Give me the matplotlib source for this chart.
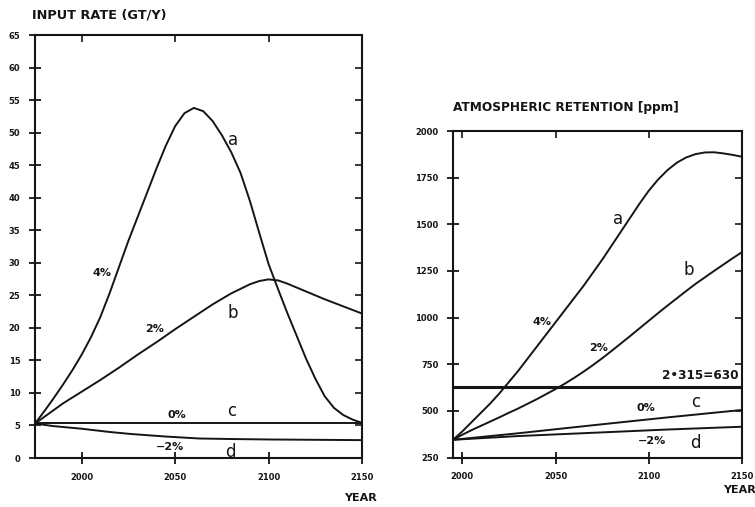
import matplotlib
matplotlib.use("Agg")
import matplotlib.pyplot as plt

# ---------------- data: left panel (input rate, GT/Y) ----------------
years_a_in = [1975, 1980, 1985, 1990, 1995, 2000, 2005, 2010, 2015, 2020, 2025, 2030,
              2035, 2040, 2045, 2050, 2055, 2060, 2065, 2070, 2075, 2080, 2085, 2090,
              2095, 2100, 2105, 2110, 2115, 2120, 2125, 2130, 2135, 2140, 2145, 2150]
rate_a = [5.3, 7.2, 9.2, 11.3, 13.5, 15.9, 18.6, 21.7, 25.4, 29.4, 33.4, 37.1,
          40.8, 44.5, 48.0, 51.0, 53.0, 53.8, 53.3, 51.8, 49.6, 47.0, 43.8, 39.5,
          34.6, 29.8, 26.0, 22.3, 18.8, 15.3, 12.2, 9.5, 7.7, 6.6, 5.9, 5.4]
years_b_in = [1975, 1990, 2000, 2010, 2020, 2030, 2040, 2050, 2060, 2070, 2080, 2090,
              2095, 2100, 2105, 2110, 2120, 2130, 2140, 2150]
rate_b = [5.3, 8.4, 10.2, 12.0, 13.9, 15.9, 17.8, 19.8, 21.7, 23.6, 25.3, 26.7,
          27.2, 27.45, 27.3, 26.8, 25.6, 24.4, 23.3, 22.2]
years_c_in = [1975, 2150]
rate_c = [5.4, 5.4]
years_d_in = [1975, 1985, 2000, 2015, 2026, 2045, 2063, 2080, 2100, 2125, 2150]
rate_d = [5.3, 4.9, 4.5, 4.0, 3.7, 3.3, 3.0, 2.92, 2.85, 2.8, 2.75]

# ---------------- data: right panel (atmospheric retention, ppm) ----------------
years_a_ret = [1995, 2000, 2005, 2010, 2015, 2020, 2025, 2030, 2035, 2040, 2045, 2050,
               2055, 2060, 2065, 2070, 2075, 2080, 2085, 2090, 2095, 2100, 2105, 2110,
               2115, 2120, 2125, 2130, 2135, 2140, 2145, 2150]
ppm_a = [345, 390, 440, 490, 540, 595, 655, 715, 780, 845, 910, 975,
         1040, 1105, 1170, 1240, 1310, 1385, 1460, 1535, 1610, 1680, 1740, 1790,
         1830, 1858, 1876, 1885, 1886, 1880, 1872, 1862]
years_b_ret = [1995, 2000, 2005, 2010, 2015, 2020, 2025, 2030, 2035, 2040, 2045, 2050,
               2055, 2060, 2065, 2070, 2075, 2080, 2085, 2090, 2095, 2100, 2105, 2110,
               2115, 2120, 2125, 2130, 2135, 2140, 2145, 2150]
ppm_b = [345, 372, 397, 420, 443, 466, 490, 513, 538, 563, 590, 617,
         646, 677, 710, 745, 782, 821, 861, 901, 942, 983, 1024, 1064,
         1103, 1142, 1180, 1215, 1250, 1284, 1318, 1351]
years_c_ret = [1995, 2030, 2071, 2110, 2150]
ppm_c = [345, 380, 424, 465, 505]
years_d_ret = [1995, 2030, 2071, 2110, 2150]
ppm_d = [345, 365, 383, 400, 415]
doubling_level = 630

left_yticks = list(range(0, 70, 5))
right_yticks = [250, 500, 750, 1000, 1250, 1500, 1750, 2000]
xticks = [2000, 2050, 2100, 2150]

INK = "#151515"
plt.rcParams['font.family'] = ['DejaVu Sans']

fig = plt.figure(figsize=(7.55, 5.07), dpi=100)
fig.patch.set_facecolor("white")


def style_axes(ax, yticks, xlim, ylim):
    ax.set_xlim(*xlim)
    ax.set_ylim(*ylim)
    for s in ax.spines.values():
        s.set_linewidth(1.5)
        s.set_color(INK)
    ax.set_xticks(xticks)
    ax.set_yticks(yticks)
    ax.tick_params(axis='both', direction='inout', length=9, width=1.3, color=INK,
                   labelsize=6, labelcolor=INK, pad=6)
    for lab in ax.get_xticklabels() + ax.get_yticklabels():
        lab.set_fontweight('bold')
    # top and right ticks pointing inward, no labels
    top = ax.secondary_xaxis('top')
    top.set_xticks(xticks[:-1])
    top.tick_params(direction='in', length=5, width=1.2, color=INK, labeltop=False)
    top.set_xticklabels([])
    top.spines['top'].set_visible(False)
    right = ax.secondary_yaxis('right')
    right.set_yticks(yticks[1:-1])
    right.tick_params(direction='in', length=5, width=1.2, color=INK, labelright=False)
    right.set_yticklabels([])
    right.spines['right'].set_visible(False)


# ---------------- left panel ----------------
ax1 = fig.add_axes([0.0464, 0.0966, 0.4331, 0.8343])
style_axes(ax1, left_yticks, (1975, 2150), (0, 65))
lw = 1.4
for xs, ys in [(years_a_in, rate_a), (years_b_in, rate_b),
               (years_c_in, rate_c), (years_d_in, rate_d)]:
    ax1.plot(xs, ys, color=INK, lw=lw, solid_joinstyle='round', solid_capstyle='round')

lbl = dict(color=INK, ha='center', va='center')
ax1.text(2081, 48.8, 'a', fontsize=12, **lbl)
ax1.text(2081, 22.3, 'b', fontsize=12, **lbl)
ax1.text(2080, 7.2, 'c', fontsize=12, **lbl)
ax1.text(2079.5, 1.0, 'd', fontsize=12, **lbl)
ax1.text(2010.7, 28.4, '4%', fontsize=8, fontweight='bold', **lbl)
ax1.text(2039.2, 19.8, '2%', fontsize=8, fontweight='bold', **lbl)
ax1.text(2050.8, 6.6, '0%', fontsize=8, fontweight='bold', **lbl)
ax1.text(2047.2, 1.7, '\u22122%', fontsize=8, fontweight='bold', **lbl)

fig.text(32 / 755, 1 - 15 / 507, 'INPUT RATE (GT/Y)', fontsize=9.3, fontweight='bold',
         color=INK, ha='left', va='center')
fig.text(360 / 755, 1 - 498 / 507, 'YEAR', fontsize=8, fontweight='bold',
         color=INK, ha='center', va='center')

# ---------------- right panel ----------------
ax2 = fig.add_axes([0.6, 0.0976, 0.3828, 0.644])
style_axes(ax2, right_yticks, (1995, 2150), (250, 2000))
for xs, ys in [(years_a_ret, ppm_a), (years_b_ret, ppm_b),
               (years_c_ret, ppm_c), (years_d_ret, ppm_d)]:
    ax2.plot(xs, ys, color=INK, lw=lw, solid_joinstyle='round', solid_capstyle='round')
ax2.axhline(doubling_level, color=INK, lw=2.2)

ax2.text(2083.5, 1530, 'a', fontsize=12, **lbl)
ax2.text(2121.5, 1255, 'b', fontsize=12, **lbl)
ax2.text(2125, 550, 'c', fontsize=12, **lbl)
ax2.text(2125, 330, 'd', fontsize=12, **lbl)
ax2.text(2042.7, 977, '4%', fontsize=8, fontweight='bold', **lbl)
ax2.text(2073, 835, '2%', fontsize=8, fontweight='bold', **lbl)
ax2.text(2098.2, 513, '0%', fontsize=8, fontweight='bold', **lbl)
ax2.text(2101.8, 337, '\u22122%', fontsize=8, fontweight='bold', **lbl)
ax2.text(2127.6, 692, '2\u2022315=630', fontsize=8.7, fontweight='bold', **lbl)

fig.text(453 / 755, 1 - 108 / 507, 'ATMOSPHERIC RETENTION [ppm]', fontsize=8.7,
         fontweight='bold', color=INK, ha='left', va='center')
fig.text(723 / 755, 1 - 490 / 507, 'YEAR', fontsize=8, fontweight='bold',
         color=INK, ha='left', va='center')

fig.savefig('out.png', dpi=100, facecolor='white')
